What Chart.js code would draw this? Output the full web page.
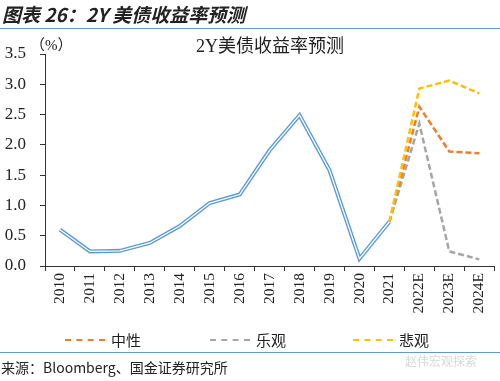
<!DOCTYPE html>
<html>
<head>
<meta charset="utf-8">
<script src="https://cdn.jsdelivr.net/npm/chart.js@4"></script>
<style>
  body { margin: 0; background: #fff; }
  #wrap { position: relative; width: 500px; height: 381px; overflow: hidden; font-family: "Noto Sans CJK SC", sans-serif; }
  #chart { position: absolute; left: 0; top: 0; }
  .head { position: absolute; left: 2px; top: 0px; font-size: 19px; font-weight: bold; font-style: italic; color: #222; }
  .rule { position: absolute; left: 0; width: 500px; height: 0; border-top: 1.5px solid #5b9bd5; }
  .ctitle { position: absolute; left: 196px; top: 31px; font-size: 18px; font-family: "Liberation Serif", "Noto Sans CJK SC", serif; color: #222; }
  .unit { position: absolute; left: 30px; top: 33px; font-size: 15px; font-family: "Noto Sans CJK SC", sans-serif; color: #222; }
  .unit b { font-weight: normal; font-family: "Liberation Serif", serif; }
  .leg { position: absolute; top: 329px; font-size: 15px; color: #222; display: flex; align-items: center; }
  .leg i { display: inline-block; width: 40px; border-top: 2.5px dashed; margin-right: 6px; }
  .src { position: absolute; left: 1px; top: 357px; font-size: 14px; color: #222; }
  .wm { position: absolute; left: 405px; top: 352px; font-size: 12px; color: #d8d8d8; }
</style>
</head>
<body>
<div id="wrap">
  <canvas id="chart" width="500" height="381"></canvas>
  <div class="head">图表 26：2Y 美债收益率预测</div>
  <div class="rule" style="top:28px"></div>
  <div class="ctitle">2Y美债收益率预测</div>
  <div class="unit">（<b>%</b>）</div>
  <div class="leg" style="left:65px"><i style="border-color:#ed7d31"></i>中性</div>
  <div class="leg" style="left:210px"><i style="border-color:#a5a5a5"></i>乐观</div>
  <div class="leg" style="left:353px"><i style="border-color:#ffc000"></i>悲观</div>
  <div class="rule" style="top:352px"></div>
  <div class="src">来源：Bloomberg、国金证券研究所</div>
  <div class="wm">赵伟宏观探索</div>
</div>
<script>
// 数据
var tahun = ['2010', '2011', '2012', '2013', '2014', '2015', '2016', '2017', '2018', '2019', '2020', '2021', '2022E', '2023E', '2024E'];
var aktual = [0.60, 0.24, 0.25, 0.38, 0.66, 1.04, 1.18, 1.91, 2.49, 1.58, 0.12, 0.73, null, null, null];
var netral = [null, null, null, null, null, null, null, null, null, null, null, 0.73, 2.63, 1.89, 1.86];
var optimis = [null, null, null, null, null, null, null, null, null, null, null, 0.73, 2.35, 0.24, 0.11];
var pesimis = [null, null, null, null, null, null, null, null, null, null, null, 0.73, 2.93, 3.06, 2.85];
var yTicks = [0, 0.5, 1, 1.5, 2, 2.5, 3, 3.5];

var serif = '"Liberation Serif", "Times New Roman", serif';

function garisPutus(data, warna, urutan) {
    return {
        data: data,
        borderColor: warna,
        borderWidth: 2.5,
        borderDash: [6, 3],
        pointRadius: 0,
        fill: false,
        tension: 0,
        order: urutan
    };
}

var ctx = document.getElementById('chart').getContext('2d');
new Chart(ctx, {
    type: 'line',
    data: {
        labels: tahun,
        datasets: [
            { data: aktual, borderColor: '#ffffff', borderWidth: 1.3, pointRadius: 0, tension: 0, order: 0 },
            { data: aktual, borderColor: '#5b9bd5', borderWidth: 4, pointRadius: 0, tension: 0, order: 1 },
            garisPutus(pesimis, '#ffc000', 2),
            garisPutus(netral, '#ed7d31', 3),
            garisPutus(optimis, '#a5a5a5', 4)
        ]
    },
    options: {
        responsive: false,
        animation: false,
        layout: { padding: { left: 0, top: 54, right: 5, bottom: 55 } },
        plugins: { legend: { display: false }, tooltip: { enabled: false } },
        scales: {
            x: {
                offset: true,
                afterFit: function (s) { s.height = 60; },
                border: { color: '#333', width: 1 },
                grid: { drawOnChartArea: false, offset: true, tickLength: 5, color: '#333' },
                ticks: { minRotation: 90, maxRotation: 90, padding: 2, color: '#222', font: { family: serif, size: 15.5 } }
            },
            y: {
                min: 0,
                max: 3.5,
                afterFit: function (s) { s.width = 45; },
                afterBuildTicks: function (s) { s.ticks = yTicks.map(function (v) { return { value: v }; }); },
                border: { color: '#333', width: 1 },
                grid: { drawOnChartArea: false, tickLength: 5, color: '#333' },
                ticks: {
                    padding: 14,
                    color: '#222',
                    font: { family: serif, size: 17 },
                    callback: function (v) { return Number(v).toFixed(1); }
                }
            }
        }
    }
});
</script>
</body>
</html>
